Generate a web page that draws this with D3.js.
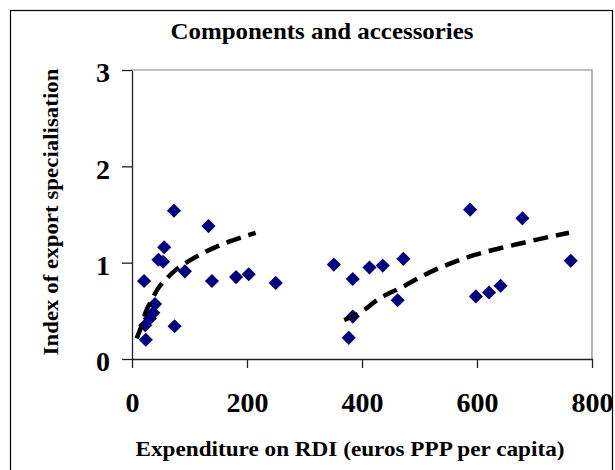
<!DOCTYPE html>
<html>
<head>
<meta charset="utf-8">
<script src="https://cdn.jsdelivr.net/npm/d3@7"></script>
<style>
    body { margin: 0; background: #fff; }
    svg text { font-family: 'Liberation Serif', 'Times New Roman', serif; font-weight: bold; fill: #000; }
</style>
</head>
<body>
<div class="scatter-chart"></div>
<script>
'use strict'

// Data.
const rdiSpend = [73, 133, 56, 46, 54, 21, 92, 139, 181, 203, 250, 40, 37, 31, 23, 74, 24,
                  351, 384, 413, 436, 472, 462, 384, 377, 588, 679, 598, 621, 641, 763];
const exportIndex = [1.54, 1.38, 1.16, 1.03, 1.01, 0.81, 0.91, 0.81, 0.85, 0.88, 0.79, 0.57, 0.48, 0.42, 0.35, 0.34, 0.20,
                     0.98, 0.83, 0.95, 0.97, 1.04, 0.61, 0.44, 0.22, 1.55, 1.46, 0.65, 0.69, 0.76, 1.02];

// Trend lines as drawn.
const trendLowX = [8, 17, 24, 34, 44, 61, 75, 97, 127, 170, 215];
const trendLowY = [0.215, 0.35, 0.49, 0.61, 0.72, 0.84, 0.92, 1.01, 1.11, 1.22, 1.31];
const trendHighX = [369, 394, 431, 471, 511, 553, 596, 640, 683, 727, 760];
const trendHighY = [0.405, 0.47, 0.63, 0.75, 0.88, 0.99, 1.08, 1.15, 1.21, 1.27, 1.31];

const xTicks = [0, 200, 400, 600, 800];
const yTicks = [0, 1, 2, 3];

const title = 'Components and accessories';
const xTitle = 'Expenditure on RDI (euros PPP per capita)';
const yTitle = 'Index of export specialisation';

// Dimensions.
let width = 615,
    height = 470,
    margin = {top: 70, right: 23, bottom: 111, left: 132};

let svg = d3.select('.scatter-chart')
    .append('svg')
        .attr('width', width)
        .attr('height', height);

// Outer frame.
svg.append('rect')
    .attr('x', 10.5)
    .attr('y', 10.5)
    .attr('width', 602)
    .attr('height', 480)
    .attr('fill', 'none')
    .attr('stroke', '#000')
    .attr('stroke-width', 1.2);

// Scales.
let x = d3.scaleLinear()
    .domain([0, 800])
    .range([margin.left, width - margin.right]);

let y = d3.scaleLinear()
    .domain([0, 3])
    .range([height - margin.bottom, margin.top]);

// Plot border (top and right in grey).
svg.append('path')
    .attr('d', `M${x(0)},${y(3)}H${x(800)}V${y(0)}`)
    .attr('fill', 'none')
    .attr('stroke', '#808080')
    .attr('stroke-width', 1.2);

// Axes.
svg.append('g')
    .attr('transform', `translate(0, ${y(0)})`)
    .call(d3.axisBottom(x).tickValues(xTicks).tickSizeInner(9).tickSizeOuter(0).tickPadding(24))
    .call(g => g.select('.domain').attr('stroke', '#222').attr('stroke-width', 1.3))
    .call(g => g.selectAll('.tick line').attr('stroke', '#222').attr('stroke-width', 1.3))
    .call(g => g.selectAll('.tick text')
        .style('font-size', '28px')
        .attr('fill', '#000'));

svg.append('g')
    .attr('transform', `translate(${x(0)}, 0)`)
    .call(d3.axisLeft(y).tickValues(yTicks).tickFormat(d3.format('d')).tickSizeInner(10).tickSizeOuter(0).tickPadding(12))
    .call(g => g.select('.domain').attr('stroke', '#222').attr('stroke-width', 1.3))
    .call(g => g.selectAll('.tick line').attr('stroke', '#222').attr('stroke-width', 1.3))
    .call(g => g.selectAll('.tick text')
        .style('font-size', '28px')
        .attr('dy', '0.42em')
        .attr('fill', '#000'));

// Titles.
svg.append('text')
    .attr('x', 322)
    .attr('y', 39)
    .attr('text-anchor', 'middle')
    .attr('textLength', 303)
    .attr('lengthAdjust', 'spacingAndGlyphs')
    .style('font-size', '23px')
    .text(title);

svg.append('text')
    .attr('x', 350)
    .attr('y', 456)
    .attr('text-anchor', 'middle')
    .attr('textLength', 429)
    .attr('lengthAdjust', 'spacingAndGlyphs')
    .style('font-size', '22px')
    .text(xTitle);

svg.append('text')
    .attr('transform', `translate(58, 212) rotate(-90)`)
    .attr('text-anchor', 'middle')
    .attr('textLength', 287)
    .attr('lengthAdjust', 'spacingAndGlyphs')
    .style('font-size', '21px')
    .text(yTitle);

// Points.
let points = rdiSpend.map((d, i) => ({rdi: d, index: exportIndex[i]}));

svg.append('g')
    .attr('class', 'points')
    .selectAll('path')
    .data(points)
    .join('path')
        .attr('d', d3.symbol(d3.symbolSquare, 100))
        .attr('transform', d => `translate(${x(d.rdi)}, ${y(d.index)}) rotate(45)`)
        .attr('fill', '#000080');

// Trend lines.
let line = d3.line()
    .x(d => x(d[0]))
    .y(d => y(d[1]))
    .curve(d3.curveMonotoneX);

let trends = [
    trendLowX.map((d, i) => [d, trendLowY[i]]),
    trendHighX.map((d, i) => [d, trendHighY[i]])
];

svg.append('g')
    .attr('class', 'trend')
    .selectAll('path')
    .data(trends)
    .join('path')
        .attr('d', line)
        .attr('fill', 'none')
        .attr('stroke', '#000')
        .attr('stroke-width', 4.5)
        .attr('stroke-dasharray', '15,8');
</script>
</body>
</html>
